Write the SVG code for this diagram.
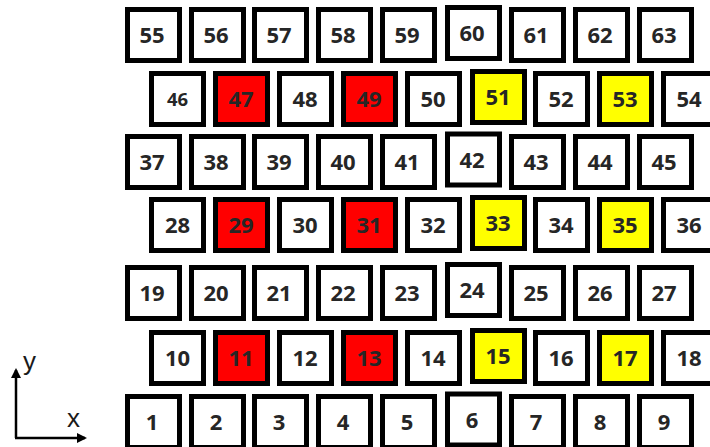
<svg xmlns="http://www.w3.org/2000/svg" width="710" height="447" viewBox="0 0 710 447">
<style>
.b rect{fill:#fff;stroke:#000;stroke-width:5}
.b.r rect{fill:#ff0000}
.b.y rect{fill:#ffff00}
.b text{font-family:"Open Sans","Liberation Sans",sans-serif;font-weight:700;font-size:22px;fill:#262626;text-anchor:middle}
.ax{stroke:#000;stroke-width:2.5;fill:none}
.al{font-family:"Liberation Sans","DejaVu Sans",sans-serif;font-size:26px;fill:#1a1a1a}
</style>
<defs>
<marker id="ah" markerWidth="10" markerHeight="10" refX="8" refY="5" orient="auto" markerUnits="userSpaceOnUse"><path d="M0,0 L10,5 L0,10 Z" fill="#000"/></marker>
</defs>
<rect width="710" height="447" fill="#fff"/>
<!-- row 1 -->
<g id="n55" class="b"><rect x="127.5" y="9.5" width="52" height="51"/><text x="152" y="43">55</text></g>
<g id="n56" class="b"><rect x="191.5" y="9.5" width="52" height="51"/><text x="216" y="43">56</text></g>
<g id="n57" class="b"><rect x="254.5" y="9.5" width="52" height="51"/><text x="279" y="43">57</text></g>
<g id="n58" class="b"><rect x="318.5" y="9.5" width="52" height="51"/><text x="343" y="43">58</text></g>
<g id="n59" class="b"><rect x="382.5" y="9.5" width="52" height="51"/><text x="407" y="43">59</text></g>
<g id="n60" class="b"><rect x="447.5" y="7.5" width="52" height="51"/><text x="472" y="41">60</text></g>
<g id="n61" class="b"><rect x="511.5" y="9.5" width="52" height="51"/><text x="536" y="43">61</text></g>
<g id="n62" class="b"><rect x="575.5" y="9.5" width="52" height="51"/><text x="600" y="43">62</text></g>
<g id="n63" class="b"><rect x="639.5" y="9.5" width="52" height="51"/><text x="664" y="43">63</text></g>
<!-- row 2 -->
<g id="n46" class="b"><rect x="151.5" y="73.5" width="52" height="51"/><text x="177.5" y="105.5" style="font-size:18.5px">46</text></g>
<g id="n47" class="b r"><rect x="215.5" y="73.5" width="52" height="51"/><text x="241" y="107">47</text></g>
<g id="n48" class="b"><rect x="279.5" y="73.5" width="52" height="51"/><text x="305" y="107">48</text></g>
<g id="n49" class="b r"><rect x="343.5" y="73.5" width="52" height="51"/><text x="369" y="107">49</text></g>
<g id="n50" class="b"><rect x="407.5" y="73.5" width="52" height="51"/><text x="433" y="107">50</text></g>
<g id="n51" class="b y"><rect x="472.5" y="71.5" width="52" height="51"/><text x="498" y="105">51</text></g>
<g id="n52" class="b"><rect x="535.5" y="73.5" width="52" height="51"/><text x="561" y="107">52</text></g>
<g id="n53" class="b y"><rect x="599.5" y="73.5" width="52" height="51"/><text x="625" y="107">53</text></g>
<g id="n54" class="b"><rect x="663.5" y="73.5" width="52" height="51"/><text x="689" y="107">54</text></g>
<!-- row 3 -->
<g id="n37" class="b"><rect x="127.5" y="136.5" width="52" height="51"/><text x="152" y="170">37</text></g>
<g id="n38" class="b"><rect x="191.5" y="136.5" width="52" height="51"/><text x="216" y="170">38</text></g>
<g id="n39" class="b"><rect x="254.5" y="136.5" width="52" height="51"/><text x="279" y="170">39</text></g>
<g id="n40" class="b"><rect x="318.5" y="136.5" width="52" height="51"/><text x="343" y="170">40</text></g>
<g id="n41" class="b"><rect x="382.5" y="136.5" width="52" height="51"/><text x="407" y="170">41</text></g>
<g id="n42" class="b"><rect x="447.5" y="134" width="52" height="51"/><text x="472" y="167.5">42</text></g>
<g id="n43" class="b"><rect x="511.5" y="136.5" width="52" height="51"/><text x="536" y="170">43</text></g>
<g id="n44" class="b"><rect x="575.5" y="136.5" width="52" height="51"/><text x="600" y="170">44</text></g>
<g id="n45" class="b"><rect x="639.5" y="136.5" width="52" height="51"/><text x="664" y="170">45</text></g>
<!-- row 4 -->
<g id="n28" class="b"><rect x="151.5" y="199.5" width="52" height="51"/><text x="177.5" y="233">28</text></g>
<g id="n29" class="b r"><rect x="215.5" y="199.5" width="52" height="51"/><text x="241" y="233">29</text></g>
<g id="n30" class="b"><rect x="279.5" y="199.5" width="52" height="51"/><text x="305" y="233">30</text></g>
<g id="n31" class="b r"><rect x="343.5" y="199.5" width="52" height="51"/><text x="369" y="233">31</text></g>
<g id="n32" class="b"><rect x="407.5" y="199.5" width="52" height="51"/><text x="433" y="233">32</text></g>
<g id="n33" class="b y"><rect x="472.5" y="197.5" width="52" height="51"/><text x="498" y="231">33</text></g>
<g id="n34" class="b"><rect x="535.5" y="199.5" width="52" height="51"/><text x="561" y="233">34</text></g>
<g id="n35" class="b y"><rect x="599.5" y="199.5" width="52" height="51"/><text x="625" y="233">35</text></g>
<g id="n36" class="b"><rect x="663.5" y="199.5" width="52" height="51"/><text x="689" y="233">36</text></g>
<!-- row 5 -->
<g id="n19" class="b"><rect x="127.5" y="267.5" width="52" height="51"/><text x="152" y="301">19</text></g>
<g id="n20" class="b"><rect x="191.5" y="267.5" width="52" height="51"/><text x="216" y="301">20</text></g>
<g id="n21" class="b"><rect x="254.5" y="267.5" width="52" height="51"/><text x="279" y="301">21</text></g>
<g id="n22" class="b"><rect x="318.5" y="267.5" width="52" height="51"/><text x="343" y="301">22</text></g>
<g id="n23" class="b"><rect x="382.5" y="267.5" width="52" height="51"/><text x="407" y="301">23</text></g>
<g id="n24" class="b"><rect x="447.5" y="264.5" width="52" height="51"/><text x="472" y="298">24</text></g>
<g id="n25" class="b"><rect x="511.5" y="267.5" width="52" height="51"/><text x="536" y="301">25</text></g>
<g id="n26" class="b"><rect x="575.5" y="267.5" width="52" height="51"/><text x="600" y="301">26</text></g>
<g id="n27" class="b"><rect x="639.5" y="267.5" width="52" height="51"/><text x="664" y="301">27</text></g>
<!-- row 6 -->
<g id="n10" class="b"><rect x="151.5" y="332.5" width="52" height="51"/><text x="177.5" y="366">10</text></g>
<g id="n11" class="b r"><rect x="215.5" y="332.5" width="52" height="51"/><text x="241" y="366">11</text></g>
<g id="n12" class="b"><rect x="279.5" y="332.5" width="52" height="51"/><text x="305" y="366">12</text></g>
<g id="n13" class="b r"><rect x="343.5" y="332.5" width="52" height="51"/><text x="369" y="366">13</text></g>
<g id="n14" class="b"><rect x="407.5" y="332.5" width="52" height="51"/><text x="433" y="366">14</text></g>
<g id="n15" class="b y"><rect x="472.5" y="330.5" width="52" height="51"/><text x="498" y="364">15</text></g>
<g id="n16" class="b"><rect x="535.5" y="332.5" width="52" height="51"/><text x="561" y="366">16</text></g>
<g id="n17" class="b y"><rect x="599.5" y="332.5" width="52" height="51"/><text x="625" y="366">17</text></g>
<g id="n18" class="b"><rect x="663.5" y="332.5" width="52" height="51"/><text x="689" y="366">18</text></g>
<!-- row 7 -->
<g id="n1" class="b"><rect x="127.5" y="396.5" width="52" height="51"/><text x="152" y="430">1</text></g>
<g id="n2" class="b"><rect x="191.5" y="396.5" width="52" height="51"/><text x="216" y="430">2</text></g>
<g id="n3" class="b"><rect x="254.5" y="396.5" width="52" height="51"/><text x="279" y="430">3</text></g>
<g id="n4" class="b"><rect x="318.5" y="396.5" width="52" height="51"/><text x="343" y="430">4</text></g>
<g id="n5" class="b"><rect x="382.5" y="396.5" width="52" height="51"/><text x="407" y="430">5</text></g>
<g id="n6" class="b"><rect x="447.5" y="394" width="52" height="51"/><text x="472" y="427.5">6</text></g>
<g id="n7" class="b"><rect x="511.5" y="396.5" width="52" height="51"/><text x="536" y="430">7</text></g>
<g id="n8" class="b"><rect x="575.5" y="396.5" width="52" height="51"/><text x="600" y="430">8</text></g>
<g id="n9" class="b"><rect x="639.5" y="396.5" width="52" height="51"/><text x="664" y="430">9</text></g>
<!-- axes -->
<g id="axes">
<path class="ax" d="M16,438 V370" marker-end="url(#ah)"/>
<path class="ax" d="M15,438 H85" marker-end="url(#ah)"/>
<text class="al" x="23" y="370">y</text>
<text class="al" x="67" y="427">x</text>
</g>
</svg>
